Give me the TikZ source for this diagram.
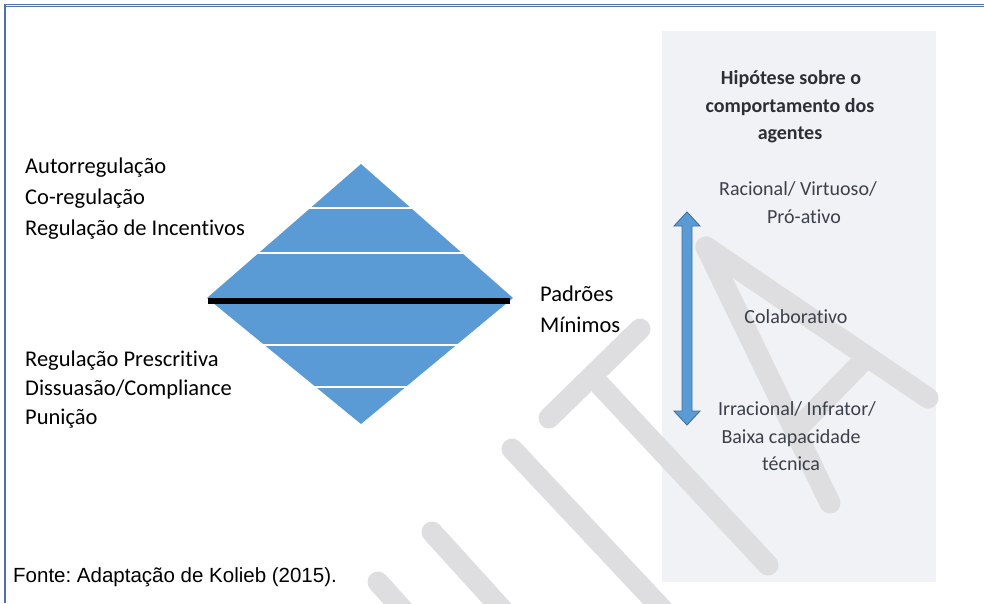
\documentclass[tikz,border=0pt]{standalone}
\usepackage{fontspec}
\setmainfont{Carlito}[RawFeature=-liga]
\newfontfamily\arialfont{Liberation Sans}
\definecolor{diamblue}{RGB}{91,155,213}
\definecolor{arrowedge}{RGB}{65,113,156}
\definecolor{panelgray}{RGB}{241,242,246}
\definecolor{wmgray}{RGB}{222,222,224}
\definecolor{frameblue}{RGB}{79,114,164}
\definecolor{paneltext}{RGB}{60,64,74}
\definecolor{headtext}{RGB}{45,47,55}
\frenchspacing
\begin{document}
\begin{tikzpicture}[x=1pt,y=-1pt,
  lefttext/.style={anchor=base west,inner sep=0pt,font=\fontsize{22.5}{26}\selectfont,text=black},
  paneltxt/.style={anchor=base,inner sep=0pt,font=\fontsize{20}{24}\selectfont,text=paneltext},
  headtxt/.style={anchor=base,inner sep=0pt,font=\fontsize{20}{24}\selectfont\bfseries,text=headtext},
  wm/.style={draw=wmgray,line width=21pt,line cap=round},
  gapline/.style={draw=white,line width=2.2pt}]
\useasboundingbox (0,0) rectangle (984,603);
\fill[white] (0,0) rectangle (984,603);
% panel
\fill[panelgray] (662,31) rectangle (936,582);
% watermark
\begin{scope}
\clip (0,0) rectangle (984,603);
\draw[wm] (378,582) -- (430,640);
\draw[wm] (432,532) -- (530,640);
\draw[wm] (512,449) -- (680,628);
\draw[wm] (549,418) -- (640,329);
\draw[wm] (600,385) -- (768,565);
\draw[wm] (706,247) -- (830,503);
\draw[wm] (706,247) -- (928,398);
\draw[wm] (798,428) -- (862,362);
\end{scope}
% diamond
\coordinate (dt) at (361,164);
\coordinate (dr) at (513,298);
\coordinate (db) at (361,424);
\coordinate (dl) at (207,298);
\fill[diamblue] (dt) -- (dr) -- (db) -- (dl) -- cycle;
\draw[gapline] (300,208) -- (420,208);
\draw[gapline] (250,253) -- (470,253);
\draw[gapline] (250,345) -- (470,345);
\draw[gapline] (300,387) -- (420,387);
\draw[black,line width=6pt] (208,301) -- (510,301);
% double arrow
\filldraw[fill=diamblue,draw=arrowedge,line width=0.9pt]
  (687,212) -- (700,226) -- (692,226) -- (692,411) -- (700,411) -- (687,425)
  -- (674,411) -- (682,411) -- (682,226) -- (674,226) -- cycle;
% left texts
\node[lefttext] (a1) at (25,173) {Autorregulação};
\node[lefttext] (a2) at (25,204) {Co-regulação};
\node[lefttext] (a3) at (25,235) {Regulação de Incentivos};
\node[lefttext] (b1) at (25,366) {Regulação Prescritiva};
\node[lefttext] (b2) at (25,395) {Dissuasão/Compliance};
\node[lefttext] (b3) at (25,424) {Punição};
\node[lefttext] (p1) at (540,301) {Padrões};
\node[lefttext] (p2) at (540,332) {Mínimos};
% panel texts
\node[headtxt] (h1) at (791,84) {Hipótese sobre o};
\node[headtxt] (h2) at (790,112) {comportamento dos};
\node[headtxt] (h3) at (790,139) {agentes};
\node[paneltxt] (r1) at (798,195) {Racional/ Virtuoso/};
\node[paneltxt] (r2) at (804,223) {Pró-ativo};
\node[paneltxt] (c1) at (796,323) {Colaborativo};
\node[paneltxt] (i1) at (797,415) {Irracional/ Infrator/};
\node[paneltxt] (i2) at (791,443) {Baixa capacidade};
\node[paneltxt] (i3) at (791,470) {técnica};
% footer
\node[anchor=base west,inner sep=0pt,font=\arialfont\fontsize{20.5}{24}\selectfont] (f) at (13,582) {Fonte: Adaptação de Kolieb (2015).};
% frame
\draw[frameblue,line width=3pt] (4,5.5) -- (984,5.5);
\draw[white,line width=0.6pt] (6,5.5) -- (984,5.5);
\draw[frameblue,line width=2pt] (5,4) -- (5,603);
\end{tikzpicture}
\end{document}
